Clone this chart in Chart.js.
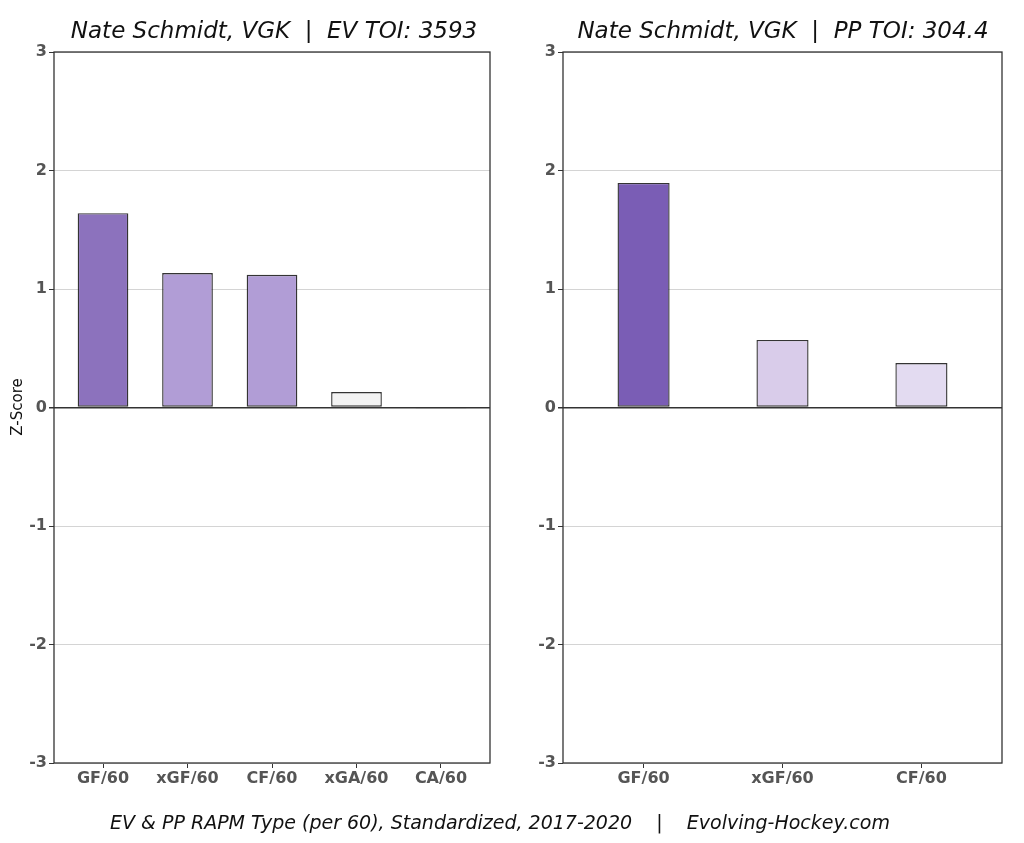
<!DOCTYPE html>
<html>
<head>
<meta charset="utf-8">
<script src="https://cdn.jsdelivr.net/npm/chart.js@4"></script>
<style>
  html,body{margin:0;padding:0;background:#fff;width:1024px;height:843px;overflow:hidden;font-family:"DejaVu Sans",sans-serif;}
  .cv{position:absolute;top:0;}
  .title{position:absolute;font-style:italic;font-size:23px;color:#111;white-space:pre;text-align:center;}
  .cap{position:absolute;left:0;width:1000px;top:811px;text-align:center;font-style:italic;font-size:19px;color:#111;white-space:pre;}
  .ylab{position:absolute;left:-23px;top:398px;width:80px;text-align:center;transform:rotate(-90deg);font-size:15px;color:#111;}
</style>
</head>
<body>
<canvas id="c1" class="cv" style="left:0px" width="512" height="843"></canvas>
<canvas id="c2" class="cv" style="left:512px" width="512" height="843"></canvas>
<div class="title" style="left:54px;width:440px;top:17px">Nate Schmidt, VGK  |  EV TOI: 3593</div>
<div class="title" style="left:563px;width:440px;top:17px">Nate Schmidt, VGK  |  PP TOI: 304.4</div>
<div class="ylab">Z-Score</div>
<div class="cap">EV &amp; PP RAPM Type (per 60), Standardized, 2017-2020    |    Evolving-Hockey.com</div>
<script>
const evCategories = ["GF/60","xGF/60","CF/60","xGA/60","CA/60"];
const evValues = [1.64, 1.135, 1.12, 0.13, -0.005];
const evColors = ["#8c72bd","#b19dd6","#b19dd6","#f3f3f3","#f3f3f3"];
const ppCategories = ["GF/60","xGF/60","CF/60"];
const ppValues = [1.895, 0.57, 0.375];
const ppColors = ["#7a5db5","#d9ccea","#e3dbf1"];
const yTicks = [-3,-2,-1,0,1,2,3];

const frame = {
  id:'frame',
  afterDraw(chart){
    const a=chart.chartArea, c=chart.ctx;
    c.save(); c.strokeStyle='#333'; c.lineWidth=1.3;
    c.strokeRect(a.left,a.top,a.right-a.left,a.bottom-a.top);
    c.restore();
  }
};

function make(id, cats, vals, cols, barPct, yWidth){
  const pts = vals.map((v,i)=>({x:i, y:v}));
  return new Chart(document.getElementById(id), {
    type:'bar',
    data:{datasets:[{data:pts, backgroundColor:cols, borderColor:'rgba(30,30,30,0.9)', borderWidth:1.4, barPercentage:barPct, categoryPercentage:1, borderSkipped:false}]},
    options:{
      responsive:false, animation:false, devicePixelRatio:1,
      layout:{padding:{top:52,bottom:50,left:0,right:22}},
      plugins:{legend:{display:false},tooltip:{enabled:false}},
      scales:{
        x:{
          type:'linear', offset:false,
          min:-0.58, max:cats.length-1+0.58,
          afterBuildTicks(s){s.ticks=cats.map((c,i)=>({value:i}));},
          grid:{drawOnChartArea:false, offset:false, tickLength:5, color:'#333', tickColor:'#333'},
          border:{display:false},
          ticks:{color:'#555', font:{family:'DejaVu Sans', size:16, weight:'bold'}, padding:1, maxRotation:0, autoSkip:false,
                 callback:(v)=>cats[Math.round(v)]},
          afterFit(s){s.height=30;}
        },
        y:{
          min:-3, max:3,
          afterBuildTicks(s){s.ticks=yTicks.map(v=>({value:v}));},
          grid:{color:(ctx)=>ctx.tick && ctx.tick.value===0 ? '#333' : '#d4d4d4', lineWidth:(ctx)=>ctx.tick && ctx.tick.value===0 ? 1.5 : 1, tickLength:5, tickColor:'#333'},
          border:{display:false},
          ticks:{color:'#555', font:{family:'DejaVu Sans', size:16, weight:'bold'}, padding:2},
          afterFit(s){s.width=yWidth;}
        }
      }
    },
    plugins:[frame]
  });
}
make('c1', evCategories, evValues, evColors, 0.6, 54);
make('c2', ppCategories, ppValues, ppColors, 0.375, 51);
</script>
</body>
</html>
